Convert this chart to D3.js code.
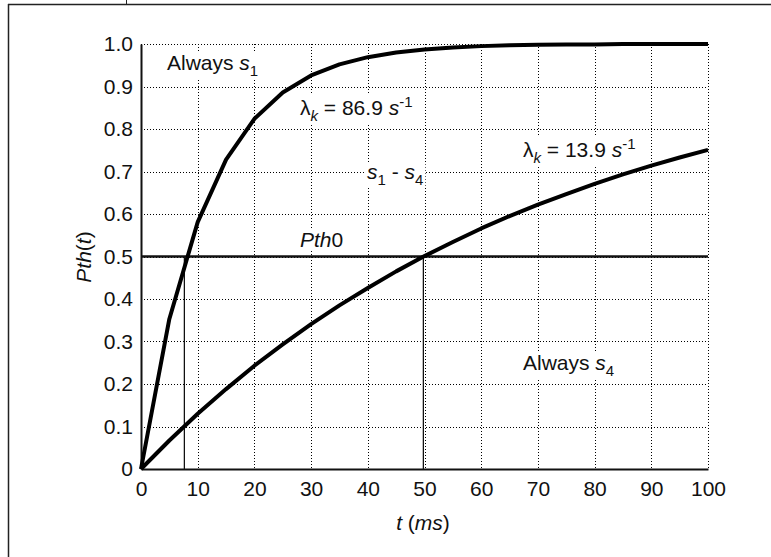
<!DOCTYPE html>
<html>
<head>
<meta charset="utf-8">
<script src="https://cdn.jsdelivr.net/npm/d3@7"></script>
<style>
  body { margin: 0; background: #fff; }
  svg { display: block; font-family: "Liberation Sans", Arial, sans-serif; }
</style>
</head>
<body>
<svg id="chart" width="771" height="557"></svg>
<script>
// time points (ms), sampled every 5 ms
const times = [0,5,10,15,20,25,30,35,40,45,50,55,60,65,70,75,80,85,90,95,100];
// fast curve, lambda_k = 86.9 1/s
const fastCurve = [0,0.353,0.581,0.728,0.824,0.886,0.926,0.952,0.969,0.980,0.987,0.992,0.995,0.997,0.998,0.999,0.999,1.0,1.0,1.0,1.0];
// slow curve, lambda_k = 13.9 1/s
const slowCurve = [0,0.067,0.130,0.188,0.243,0.293,0.341,0.385,0.426,0.465,0.501,0.534,0.566,0.595,0.622,0.647,0.671,0.693,0.714,0.733,0.751];
const threshold = 0.5;
const crossTimes = [7.65, 49.8];
const xTicks = [0,10,20,30,40,50,60,70,80,90,100];
const yTicks = [0,0.1,0.2,0.3,0.4,0.5,0.6,0.7,0.8,0.9,1.0];

const svg = d3.select("#chart");
const plotL = 141, plotR = 708, plotT = 44, plotB = 469;
const FS = 21;

const x = d3.scaleLinear().domain([0, 100]).range([plotL, plotR]);
const y = d3.scaleLinear().domain([0, 1]).range([plotB, plotT]);

// outer frame (only top and left visible)
svg.append("line").attr("x1", 8).attr("x2", 771).attr("y1", 4.5).attr("y2", 4.5)
   .attr("stroke", "#222").attr("stroke-width", 1.5);
svg.append("line").attr("x1", 8.5).attr("x2", 8.5).attr("y1", 4).attr("y2", 557)
   .attr("stroke", "#222").attr("stroke-width", 1.5);
svg.append("line").attr("x1", 126.5).attr("x2", 126.5).attr("y1", 0).attr("y2", 4)
   .attr("stroke", "#222").attr("stroke-width", 1);

// grid
const grid = svg.append("g").attr("stroke", "#000").attr("stroke-width", 1)
                .attr("stroke-dasharray", "1,2");
grid.selectAll(".gx").data(xTicks.slice(1)).enter().append("line")
    .attr("x1", d => Math.round(x(d)) + 0.5).attr("x2", d => Math.round(x(d)) + 0.5)
    .attr("y1", plotT).attr("y2", plotB);
grid.selectAll(".gy").data(yTicks.slice(1)).enter().append("line")
    .attr("x1", plotL).attr("x2", plotR)
    .attr("y1", d => Math.round(y(d)) + 0.5).attr("y2", d => Math.round(y(d)) + 0.5);

// axes
const xAxis = svg.append("g").attr("transform", `translate(0,${plotB})`)
  .call(d3.axisBottom(x).tickValues(xTicks).tickSize(0).tickPadding(12).tickFormat(d3.format("d")));
const yAxis = svg.append("g").attr("transform", `translate(${plotL},0)`)
  .call(d3.axisLeft(y).tickValues(yTicks).tickSize(0).tickPadding(8)
        .tickFormat(d => d === 0 ? "0" : d3.format(".1f")(d)));
[xAxis, yAxis].forEach(g => {
  g.select(".domain").attr("stroke", "#111").attr("stroke-width", 2);
  g.selectAll("text").attr("font-size", FS).attr("fill", "#111")
   .attr("font-family", "Liberation Sans, Arial, sans-serif");
});
xAxis.selectAll("text").attr("dy", "0.71em");

// threshold line
svg.append("line").attr("x1", plotL).attr("x2", plotR)
   .attr("y1", y(threshold)).attr("y2", y(threshold))
   .attr("stroke", "#111").attr("stroke-width", 2.3);

// crossing markers
svg.selectAll(".cross").data(crossTimes).enter().append("line")
   .attr("x1", d => x(d)).attr("x2", d => x(d))
   .attr("y1", y(0)).attr("y2", y(threshold))
   .attr("stroke", "#111").attr("stroke-width", 1.3);

// curves
const line = d3.line().x((d, i) => x(times[i])).y(d => y(d));
[fastCurve, slowCurve].forEach(c => {
  svg.append("path").datum(c).attr("d", line).attr("fill", "none")
     .attr("stroke", "#000").attr("stroke-width", 4).attr("stroke-linejoin", "round");
});

// text labels with white background (hides grid)
function label(px, py, parts) {
  const g = svg.append("g");
  const bg = g.append("rect").attr("fill", "#fff");
  const t = g.append("text").attr("x", px).attr("y", py)
             .attr("font-size", FS).attr("fill", "#111");
  parts.forEach(p => {
    const s = t.append("tspan").text(p.t);
    if (p.i) s.attr("font-style", "italic");
    if (p.sub) s.attr("font-size", 15).attr("dy", 6);
    if (p.sup) s.attr("font-size", 15).attr("dy", -8);
    if (p.back) s.attr("dy", p.back);
  });
  const b = t.node().getBBox();
  bg.attr("x", b.x - 2).attr("y", b.y + 2).attr("width", b.width + 4).attr("height", b.height - 2);
  return t;
}

label(167, 70, [{t: "Always "}, {t: "s", i: true}, {t: "1", sub: true}]);
label(300, 115, [{t: "λ"}, {t: "k", i: true, sub: true}, {t: " = 86.9 ", back: -6}, {t: "s", i: true}, {t: "-1", sup: true}]);
label(523, 157, [{t: "λ"}, {t: "k", i: true, sub: true}, {t: " = 13.9 ", back: -6}, {t: "s", i: true}, {t: "-1", sup: true}]);
label(367, 179, [{t: "s", i: true}, {t: "1", sub: true}, {t: " - ", back: -6}, {t: "s", i: true}, {t: "4", sub: true}]);
label(300, 247, [{t: "Pth", i: true}, {t: "0"}]);
label(523, 370, [{t: "Always "}, {t: "s", i: true}, {t: "4", sub: true}]);

// axis titles
svg.append("text").attr("x", 423).attr("y", 530).attr("text-anchor", "middle")
   .attr("font-size", FS).attr("fill", "#111")
   .call(t => {
     t.append("tspan").attr("font-style", "italic").text("t");
     t.append("tspan").text(" (");
     t.append("tspan").attr("font-style", "italic").text("ms");
     t.append("tspan").text(")");
   });
svg.append("text").attr("transform", "translate(91,257) rotate(-90)").attr("text-anchor", "middle")
   .attr("font-size", FS).attr("fill", "#111")
   .call(t => {
     t.append("tspan").attr("font-style", "italic").text("Pth");
     t.append("tspan").text("(");
     t.append("tspan").attr("font-style", "italic").text("t");
     t.append("tspan").text(")");
   });
</script>
</body>
</html>
